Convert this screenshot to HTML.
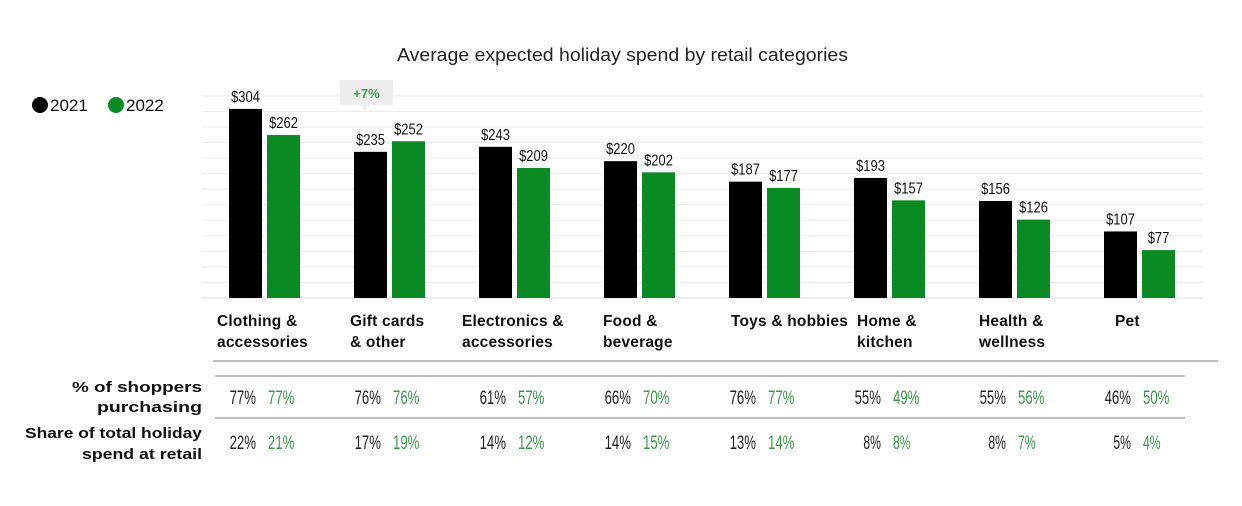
<!DOCTYPE html>
<html><head><meta charset="utf-8"><style>
body{margin:0;background:#fff;}
svg{display:block;font-family:"Liberation Sans",sans-serif;}
</style></head><body>
<svg id="c" width="1242" height="506">
<text x="397" y="61" textLength="451" lengthAdjust="spacingAndGlyphs" font-size="18" fill="#222">Average expected holiday spend by retail categories</text>
<g>
<circle cx="40" cy="105" r="8" fill="#000"/>
<text x="50" y="111" font-size="17" fill="#111">2021</text>
<circle cx="116" cy="105" r="8" fill="#0a8a22"/>
<text x="126" y="111" font-size="17" fill="#111">2022</text>
</g>
<g id="grid"></g><g id="bars"></g><g id="cats"></g><g id="table"></g>
<g>
<rect x="340" y="80" width="53" height="25" fill="#eeeeee"/>
<polygon points="360,105 370,105 365,111" fill="#eeeeee"/>
<text x="366.5" y="98" text-anchor="middle" font-size="13" font-weight="bold" fill="#3aa34a">+7%</text>
</g>
<line x1="213" y1="361" x2="1218" y2="361" stroke="#999" stroke-width="1.2"/>
<line x1="215" y1="376" x2="1185" y2="376" stroke="#999" stroke-width="1.2"/>
<line x1="215" y1="418" x2="1185" y2="418" stroke="#999" stroke-width="1.2"/>
<text x="72" y="392" textLength="130" lengthAdjust="spacingAndGlyphs" font-size="15" font-weight="bold" fill="#111">% of shoppers</text>
<text x="97" y="412" textLength="105" lengthAdjust="spacingAndGlyphs" font-size="15" font-weight="bold" fill="#111">purchasing</text>
<text x="25" y="438" textLength="177" lengthAdjust="spacingAndGlyphs" font-size="15" font-weight="bold" fill="#111">Share of total holiday</text>
<text x="82" y="459" textLength="120" lengthAdjust="spacingAndGlyphs" font-size="15" font-weight="bold" fill="#111">spend at retail</text>
</svg>
<script>
const categories=[["Clothing &","accessories"],["Gift cards","& other"],["Electronics &","accessories"],["Food &","beverage"],["Toys & hobbies",""],["Home &","kitchen"],["Health &","wellness"],["Pet",""]];
const spend2021=[304,235,243,220,187,193,156,107];
const spend2022=[262,252,209,202,177,157,126,77];
const shoppers2021=[77,76,61,66,76,55,55,46];
const shoppers2022=[77,76,57,70,77,49,56,50];
const share2021=[22,17,14,14,13,8,8,5];
const share2022=[21,19,12,15,14,8,7,4];
const gridTicks=[0,25,50,75,100,125,150,175,200,225,250,275,300,325];
const labelOffsets=[-12,-4,-17,-1,2,3,0,11];
const NS="http://www.w3.org/2000/svg";
const base=298,k=0.622;
const y=v=>base-v*k;
const gx=i=>229+i*125;
function mk(p,t,a,txt){const e=document.createElementNS(NS,t);for(const q in a)e.setAttribute(q,a[q]);if(txt!=null)e.textContent=txt;p.appendChild(e);return e;}
const G=document.getElementById('grid'),B=document.getElementById('bars'),C=document.getElementById('cats'),T=document.getElementById('table');
gridTicks.forEach(t=>{const l=mk(G,'line',{x1:202,x2:1203,y1:y(t),y2:y(t),stroke:t===0?'#ddd':'#ececec','stroke-width':1});

});
function narrow(s,per){return {textLength:s.length*per,lengthAdjust:'spacingAndGlyphs'};}
categories.forEach((c,i)=>{
 const x=gx(i);
 const b1=mk(B,'rect',{x:x,y:y(spend2021[i]),width:33,height:spend2021[i]*k,fill:'#000'});
 
 
 const b2=mk(B,'rect',{x:x+38,y:y(spend2022[i]),width:33,height:spend2022[i]*k,fill:'#0a8a22'});
 
 
 const s1='$'+spend2021[i],s2='$'+spend2022[i];
 const l1=mk(B,'text',Object.assign({x:x+16.5-s1.length*3.6,y:y(spend2021[i])-7,'font-size':16,fill:'#111'},narrow(s1,7.2)),s1);
 
 
 const l2=mk(B,'text',Object.assign({x:x+54.5-s2.length*3.6,y:y(spend2022[i])-7,'font-size':16,fill:'#111'},narrow(s2,7.2)),s2);
 
 
 const lx=x+labelOffsets[i];
 const ct=mk(C,'text',{x:lx,y:326,'font-size':15.5,'font-weight':'bold',fill:'#111'});
 
 
 mk(ct,'tspan',{x:lx,y:326,'letter-spacing':'0.2'},c[0]);mk(ct,'tspan',{x:lx,y:347,'letter-spacing':'0.2'},c[1]);
 [[shoppers2021,shoppers2022,404],[share2021,share2022,449]].forEach(r=>{
  const sa=r[0][i]+'%',sb=r[1][i]+'%';
  const a=mk(T,'text',Object.assign({x:x+27-sa.length*8.8,y:r[2],'font-size':19,fill:'#222'},narrow(sa,8.8)),sa);
  
  
  const b=mk(T,'text',Object.assign({x:x+39,y:r[2],'font-size':19,fill:'#3a9a48'},narrow(sb,8.8)),sb);
  
  
 });
});
</script>
</body></html>
